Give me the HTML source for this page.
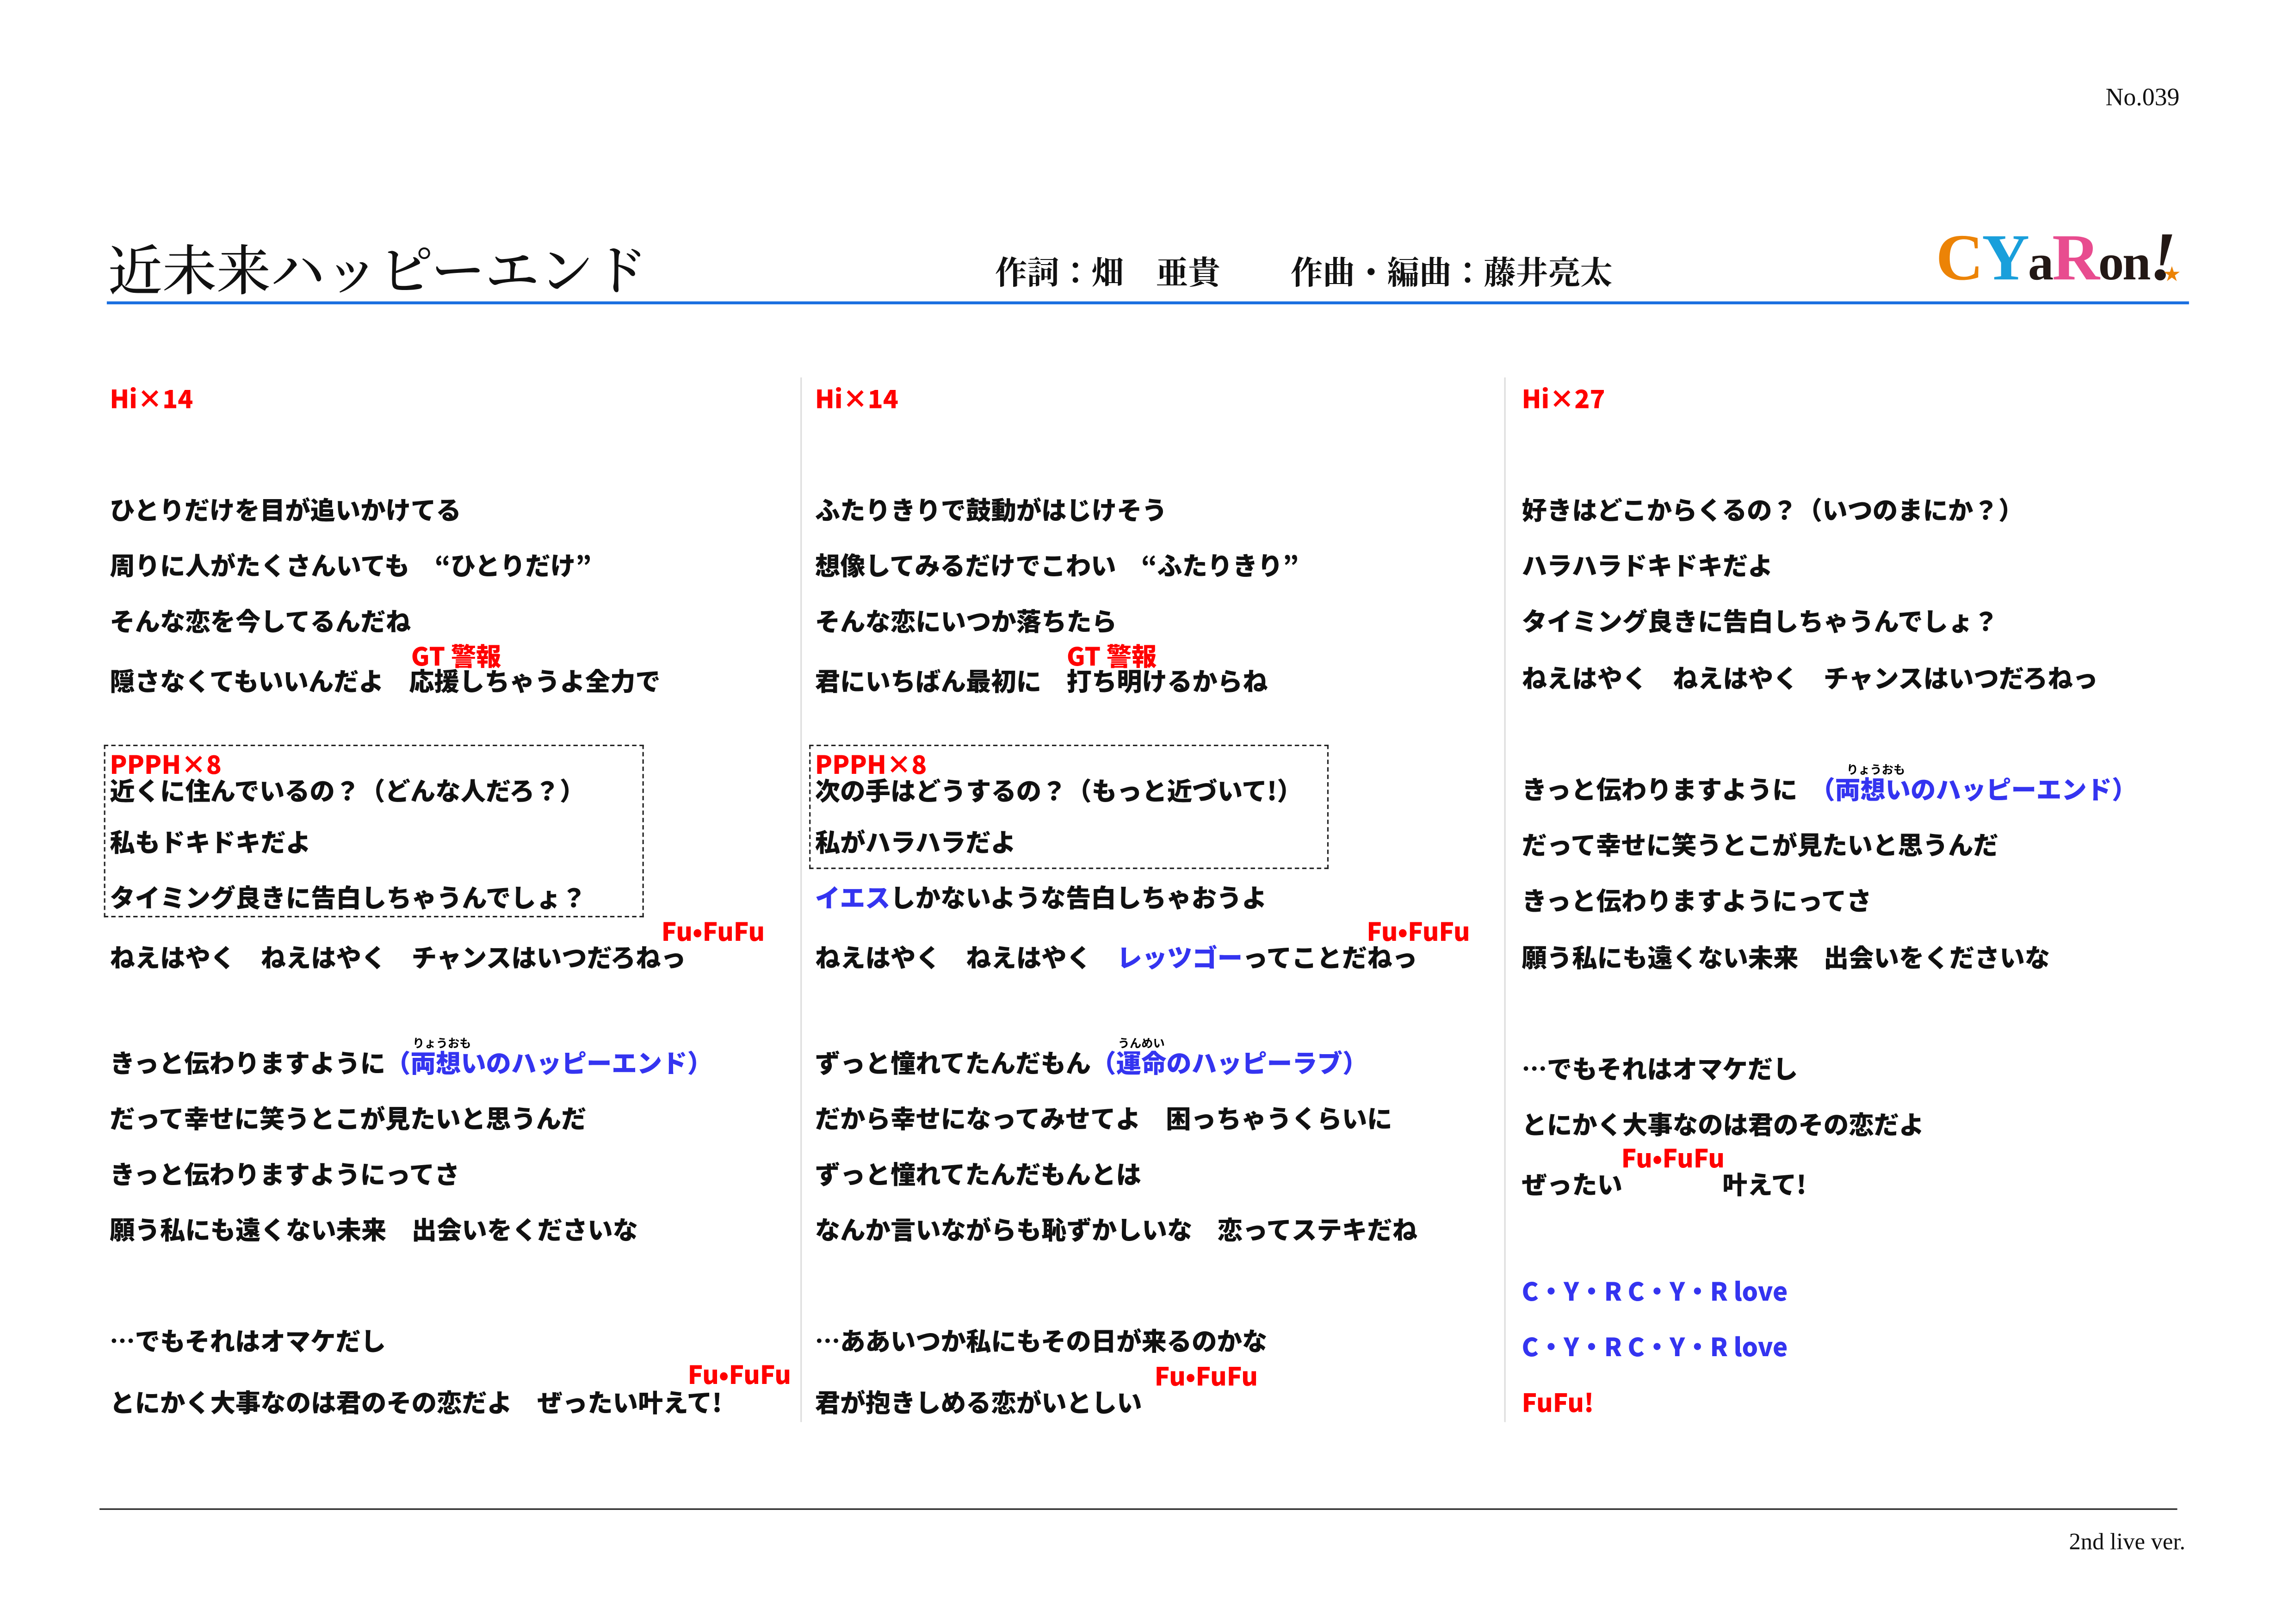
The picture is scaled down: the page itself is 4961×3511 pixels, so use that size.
<!DOCTYPE html>
<html><head><meta charset="utf-8"><style>
html,body{margin:0;padding:0;background:#fff;}
body{width:4961px;height:3507px;overflow:hidden;position:relative;}
#s{position:absolute;left:0;top:0;width:1570px;height:1110px;transform:scale(3.163);transform-origin:0 0;}
.t{position:absolute;line-height:24px;height:24px;white-space:nowrap;font-family:"Noto Sans CJK JP","Liberation Sans",sans-serif;font-weight:900;font-size:17.2px;color:#111;}
.r{color:#f00;}
.b{color:#3434f0;}
.ru{position:absolute;font-family:"Noto Sans CJK JP",sans-serif;font-weight:700;font-size:8px;line-height:10px;white-space:nowrap;}
.serif{font-family:"Liberation Serif","Noto Serif CJK JP",serif;}
.box{position:absolute;border:1px dashed #222;}
.vl{position:absolute;width:1px;background:#ddd;}
</style></head><body><div id="s">

<div class="t serif" style="left:1439px;top:55px;font-weight:400;font-size:17px;font-family:'Liberation Serif',serif;">No.039</div>
<div class="t serif" style="left:74px;top:160px;height:44px;line-height:44px;font-size:37px;font-weight:500;font-family:'Noto Serif CJK JP',serif;">近未来ハッピーエンド</div>
<div class="t serif" style="left:680px;top:171px;height:30px;line-height:30px;font-size:22px;font-weight:700;font-family:'Noto Serif CJK JP',serif;">作詞：畑　亜貴</div>
<div class="t serif" style="left:882px;top:171px;height:30px;line-height:30px;font-size:22px;font-weight:700;font-family:'Noto Serif CJK JP',serif;">作曲・編曲：藤井亮太</div>

<div style="position:absolute;left:1323px;top:150px;height:52px;font-family:'Liberation Serif',serif;font-weight:700;font-size:45px;line-height:52px;white-space:nowrap;letter-spacing:-1px;">
<span style="color:#ec8306;">C</span><span style="color:#199fdb;">Y</span><span style="color:#231815;font-size:35px;">a</span><span style="color:#e84c8f;">R</span><span style="color:#231815;font-size:35px;">on</span><span style="color:#231815;font-style:italic;font-size:47px;">!</span>
</div>
<div style="position:absolute;left:1478px;top:182px;color:#ec8306;font-size:14px;line-height:14px;">★</div>

<div style="position:absolute;left:73px;top:206px;width:1423px;height:2px;background:#1a6fe0;"></div>
<div style="position:absolute;left:68px;top:1031px;width:1420px;height:1px;background:#222;"></div>
<div class="t serif" style="left:1414px;top:1043px;font-weight:400;font-size:16px;font-family:'Liberation Serif',serif;">2nd live ver.</div>

<div class="vl" style="left:547px;top:258px;height:714px;"></div>
<div class="vl" style="left:1028px;top:258px;height:714px;"></div>

<!-- Column 1 -->
<div class="t r" style="left:75px;top:260px;">Hi×14</div>
<div class="t" style="left:75px;top:336px;">ひとりだけを目が追いかけてる</div>
<div class="t" style="left:75px;top:374px;">周りに人がたくさんいても　“ひとりだけ”</div>
<div class="t" style="left:75px;top:412px;">そんな恋を今してるんだね</div>
<div class="t r" style="left:281px;top:436px;">GT 警報</div>
<div class="t" style="left:75px;top:453px;">隠さなくてもいいんだよ　応援しちゃうよ全力で</div>
<div class="box" style="left:71px;top:509px;width:367px;height:116px;"></div>
<div class="t r" style="left:75px;top:510px;">PPPH×8</div>
<div class="t" style="left:75px;top:528px;">近くに住んでいるの？（どんな人だろ？）</div>
<div class="t" style="left:75px;top:563px;">私もドキドキだよ</div>
<div class="t" style="left:75px;top:601px;">タイミング良きに告白しちゃうんでしょ？</div>
<div class="t r" style="left:452px;top:624px;">Fu•FuFu</div>
<div class="t" style="left:75px;top:642px;">ねえはやく　ねえはやく　チャンスはいつだろねっ</div>
<div class="ru" style="left:282px;top:709px;">りょうおも</div>
<div class="t" style="left:75px;top:714px;">きっと伝わりますように<span class="b">（両想いのハッピーエンド）</span></div>
<div class="t" style="left:75px;top:752px;">だって幸せに笑うとこが見たいと思うんだ</div>
<div class="t" style="left:75px;top:790px;">きっと伝わりますようにってさ</div>
<div class="t" style="left:75px;top:828px;">願う私にも遠くない未来　出会いをくださいな</div>
<div class="t" style="left:75px;top:904px;">…でもそれはオマケだし</div>
<div class="t r" style="left:470px;top:927px;">Fu•FuFu</div>
<div class="t" style="left:75px;top:946px;">とにかく大事なのは君のその恋だよ　ぜったい叶えて!</div>

<!-- Column 2 -->
<div class="t r" style="left:557px;top:260px;">Hi×14</div>
<div class="t" style="left:557px;top:336px;">ふたりきりで鼓動がはじけそう</div>
<div class="t" style="left:557px;top:374px;">想像してみるだけでこわい　“ふたりきり”</div>
<div class="t" style="left:557px;top:412px;">そんな恋にいつか落ちたら</div>
<div class="t r" style="left:729px;top:436px;">GT 警報</div>
<div class="t" style="left:557px;top:453px;">君にいちばん最初に　打ち明けるからね</div>
<div class="box" style="left:553px;top:509px;width:353px;height:83px;"></div>
<div class="t r" style="left:557px;top:510px;">PPPH×8</div>
<div class="t" style="left:557px;top:528px;">次の手はどうするの？（もっと近づいて!）</div>
<div class="t" style="left:557px;top:563px;">私がハラハラだよ</div>
<div class="t" style="left:557px;top:601px;"><span class="b">イエス</span>しかないような告白しちゃおうよ</div>
<div class="t r" style="left:934px;top:624px;">Fu•FuFu</div>
<div class="t" style="left:557px;top:642px;">ねえはやく　ねえはやく　<span class="b">レッツゴー</span>ってことだねっ</div>
<div class="ru" style="left:764px;top:709px;">うんめい</div>
<div class="t" style="left:557px;top:714px;">ずっと憧れてたんだもん<span class="b">（運命のハッピーラブ）</span></div>
<div class="t" style="left:557px;top:752px;">だから幸せになってみせてよ　困っちゃうくらいに</div>
<div class="t" style="left:557px;top:790px;">ずっと憧れてたんだもんとは</div>
<div class="t" style="left:557px;top:828px;">なんか言いながらも恥ずかしいな　恋ってステキだね</div>
<div class="t" style="left:557px;top:904px;">…ああいつか私にもその日が来るのかな</div>
<div class="t r" style="left:789px;top:928px;">Fu•FuFu</div>
<div class="t" style="left:557px;top:946px;">君が抱きしめる恋がいとしい</div>

<!-- Column 3 -->
<div class="t r" style="left:1040px;top:260px;">Hi×27</div>
<div class="t" style="left:1040px;top:336px;">好きはどこからくるの？（いつのまにか？）</div>
<div class="t" style="left:1040px;top:374px;">ハラハラドキドキだよ</div>
<div class="t" style="left:1040px;top:412px;">タイミング良きに告白しちゃうんでしょ？</div>
<div class="t" style="left:1040px;top:451px;">ねえはやく　ねえはやく　チャンスはいつだろねっ</div>
<div class="ru" style="left:1262px;top:522px;">りょうおも</div>
<div class="t" style="left:1040px;top:527px;">きっと伝わりますように　<span class="b">（両想いのハッピーエンド）</span></div>
<div class="t" style="left:1040px;top:565px;">だって幸せに笑うとこが見たいと思うんだ</div>
<div class="t" style="left:1040px;top:603px;">きっと伝わりますようにってさ</div>
<div class="t" style="left:1040px;top:642px;">願う私にも遠くない未来　出会いをくださいな</div>
<div class="t" style="left:1040px;top:718px;">…でもそれはオマケだし</div>
<div class="t" style="left:1040px;top:756px;">とにかく大事なのは君のその恋だよ</div>
<div class="t r" style="left:1108px;top:779px;">Fu•FuFu</div>
<div class="t" style="left:1040px;top:797px;">ぜったい</div>
<div class="t" style="left:1177px;top:797px;">叶えて!</div>
<div class="t b" style="left:1040px;top:870px;">C・Y・R C・Y・R love</div>
<div class="t b" style="left:1040px;top:908px;">C・Y・R C・Y・R love</div>
<div class="t r" style="left:1040px;top:946px;">FuFu!</div>

</div></body></html>
